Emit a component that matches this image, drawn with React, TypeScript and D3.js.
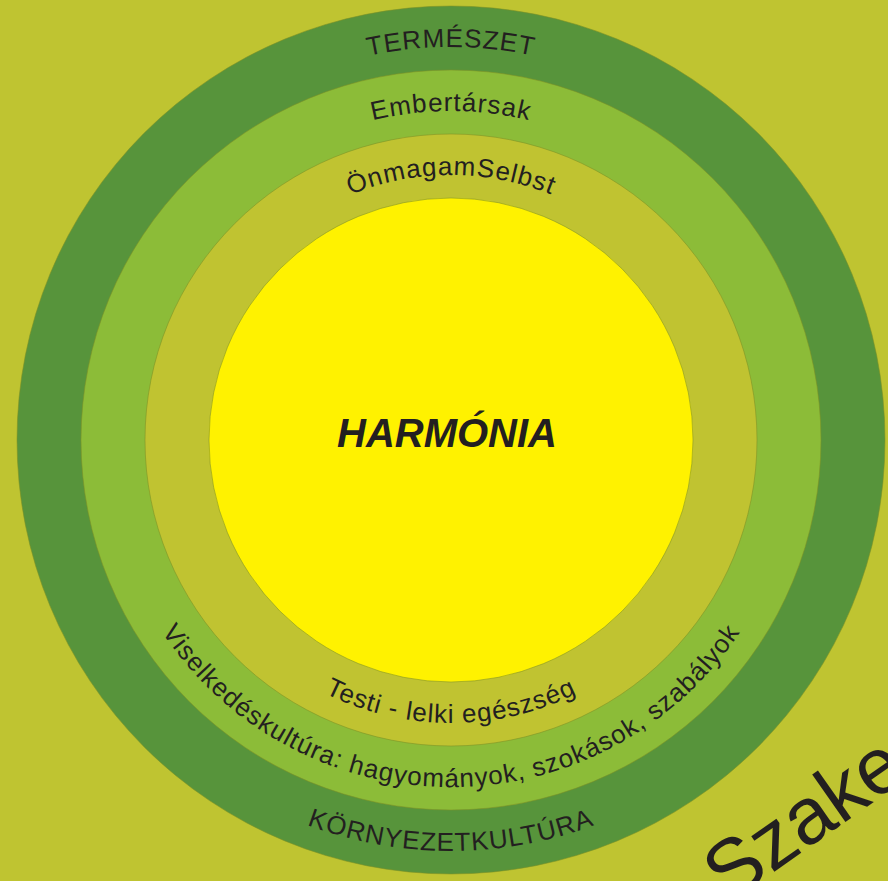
import React from "react";
import * as d3 from "d3";

// rings from the core outwards
const ringLevels = [0, 1, 2, 3];
const ringColors = ["#fff200", "#c0c331", "#8cbc38", "#57943b"];
const topLabels = ["", "ÖnmagamSelbst", "Embertársak", "TERMÉSZET"];
const bottomLabels = [
  "",
  "Testi - lelki egészség",
  "Viselkedéskultúra: hagyományok, szokások, szabályok",
  "KÖRNYEZETKULTÚRA",
];
const centerLabel = "HARMÓNIA";
const cornerLabel = "Szakember";

const width = 888;
const height = 881;
const cx = 451;
const cy = 440;
const bg = "#bfc431";
const ink = "#231f20";
const labelSize = 26;

// outer radius of each ring
const radius = d3.scaleLinear().domain([0, 3]).range([242, 434]);

// arc along the top (left -> right through the top) or the bottom
function arcPath(r: number, top: boolean) {
  const p = d3.path();
  p.moveTo(cx - r, cy);
  p.arc(cx, cy, r, Math.PI, top ? 2 * Math.PI : 0, !top);
  return p.toString();
}

export default function App() {
  const mid = (i: number) => (radius(i) + radius(i - 1)) / 2;

  return (
    <svg
      width={width}
      height={height}
      style={{ position: "absolute", left: 0, top: 0, display: "block" }}
      fontFamily="'Liberation Sans', Arial, sans-serif"
    >
      <rect width={width} height={height} fill={bg} />
      <defs>
        {ringLevels.slice(1).map((i) => (
          <React.Fragment key={i}>
            <path id={`top${i}`} d={arcPath(mid(i) - 9, true)} />
            <path id={`bot${i}`} d={arcPath(mid(i) + 9, false)} />
          </React.Fragment>
        ))}
      </defs>

      {ringLevels
        .slice()
        .reverse()
        .map((i) => (
          <circle
            key={i}
            cx={cx}
            cy={cy}
            r={radius(i)}
            fill={ringColors[i]}
            stroke="#7d8f24"
            strokeOpacity={0.55}
            strokeWidth={1}
          />
        ))}

      {ringLevels.slice(1).map((i) => (
        <g key={i} fontSize={labelSize} fill={ink} letterSpacing={1}>
          <text>
            <textPath href={`#top${i}`} startOffset="50%" textAnchor="middle">
              {topLabels[i]}
            </textPath>
          </text>
          <text>
            <textPath href={`#bot${i}`} startOffset="50%" textAnchor="middle">
              {bottomLabels[i]}
            </textPath>
          </text>
        </g>
      ))}

      <text
        x={cx - 4}
        y={cy + 7}
        textAnchor="middle"
        fontSize={40}
        fontWeight="bold"
        fontStyle="italic"
        fill={ink}
      >
        {centerLabel}
      </text>

      <text
        transform={`translate(${cx + 277},${cy + 464}) rotate(-35)`}
        fontSize={80}
        fill={ink}
      >
        {cornerLabel}
      </text>
    </svg>
  );
}
